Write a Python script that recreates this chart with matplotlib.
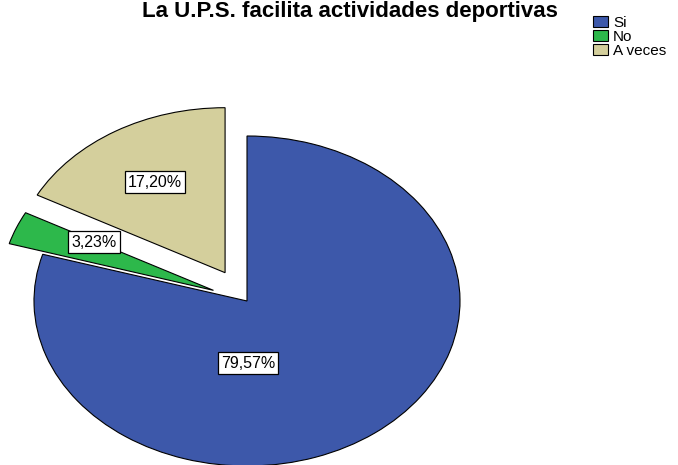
import matplotlib
matplotlib.use("Agg")
import matplotlib.pyplot as plt

categories = ["Si", "No", "A veces"]
values = [79.57, 3.23, 17.20]
colors = ["#3d58aa", "#2db84b", "#d4cf9c"]
explode = [0.0, 0.17, 0.2]
title = "La U.P.S. facilita actividades deportivas"

plt.rcParams['font.family'] = ['Liberation Sans', 'DejaVu Sans']

W, H = 678, 465
fig = plt.figure(figsize=(W / 100, H / 100), dpi=100)
ax = fig.add_axes([0, 0, 1, 1])

wedges, texts, autotexts = ax.pie(
    values, colors=colors, explode=explode, startangle=90, counterclock=False,
    autopct=lambda p: f"{p:.2f}%".replace('.', ','), pctdistance=0.64,
    wedgeprops=dict(edgecolor='black', linewidth=0.8),
    textprops=dict(fontsize=11.5, color='black'))

for t in autotexts:
    t.set_bbox(dict(boxstyle='square,pad=0.2', facecolor='white', edgecolor='black', linewidth=0.9))

# SPSS places the large slice's label nearer the centre
autotexts[0].set_position((0.005, -0.376))
x1, y1 = autotexts[1].get_position()
autotexts[1].set_position((x1 + 0.03, y1 + 0.05))

ax.set_aspect('auto')
cx, cy, rx, ry = 247, 301, 213, 165
ax.set_xlim(-cx / rx, (W - cx) / rx)
ax.set_ylim(-(H - cy) / ry, cy / ry)
ax.axis('off')

fig.text(350 / W, 1 - 1 / H, title, ha='center', va='top',
         fontsize=16, fontweight='bold')

leg = fig.legend(wedges, categories, loc='upper left', bbox_to_anchor=(590 / W, 1 - 13 / H),
                 frameon=False, fontsize=11, labelspacing=0.0, handlelength=1.0,
                 handleheight=0.75, handletextpad=0.3, borderpad=0.2, borderaxespad=0)

fig.savefig("out.png", dpi=100)
